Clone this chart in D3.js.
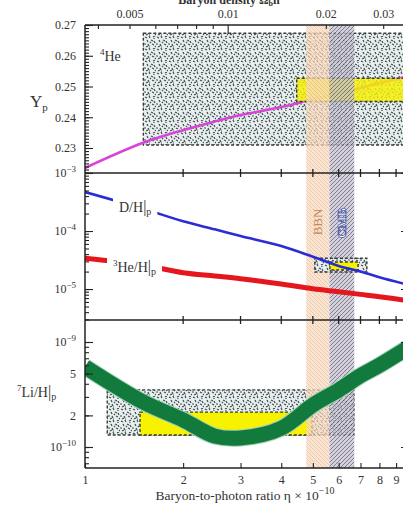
<!DOCTYPE html>
<html>
<head>
<meta charset="utf-8">
<script src="https://cdn.jsdelivr.net/npm/d3@7"></script>
<style>
  body { margin: 0; background: #fff; }
  svg { display: block; }
  svg text { font-family: "Liberation Serif", "Times New Roman", "DejaVu Serif", serif; }
</style>
</head>
<body>
<svg id="chart" width="403" height="507"></svg>
<script>
// ---- data ----
const eta = [1, 1.5, 2, 2.5, 3, 4, 5, 6, 7, 8, 10];           // eta x 10^-10
const helium4 = [0.2235, 0.2316, 0.2358, 0.2386, 0.2407, 0.2433, 0.2459, 0.2479, 0.2495, 0.2511, 0.2535];
const deuterium = [4.7e-4, 2.45e-4, 1.47e-4, 1.07e-4, 8.2e-5, 5.5e-5, 3.6e-5, 2.5e-5, 2.0e-5, 1.6e-5, 1.15e-5];
const helium3 = [3.4e-5, 2.6e-5, 1.91e-5, 1.68e-5, 1.51e-5, 1.22e-5, 1.01e-5, 9.0e-6, 8.1e-6, 7.4e-6, 6.2e-6];
const lithium7 = [5.8e-10, 2.7e-10, 1.81e-10, 1.27e-10, 1.22e-10, 1.51e-10, 2.51e-10, 3.49e-10, 4.78e-10, 6.0e-10, 9.2e-10];

// observed boxes: [eta lo, eta hi, value lo, value hi]
const heSpeckle = [1.51, 10.5, 0.231, 0.2673];
const heYellow = [4.46, 10.5, 0.2451, 0.2527];
const dSpeckle = [5.07, 7.32, 1.97e-5, 3.4e-5];
const dYellow = [5.64, 6.88, 2.13e-5, 2.92e-5];
const liSpeckle = [1.17, 6.68, 1.3e-10, 3.5e-10];
const liYellow = [1.475, 4.97, 1.3e-10, 2.15e-10];

const bbnBand = [4.77, 5.62];
const cmbBand = [5.62, 6.7];

const etaTicks = [1, 2, 3, 4, 5, 6, 7, 8, 9];
const omegaMinor = [0.004, 0.005, 0.006, 0.007, 0.008, 0.009, 0.02, 0.03];
const omegaLabels = [0.005, 0.01, 0.02, 0.03];
const heLabels = [0.23, 0.24, 0.25, 0.26, 0.27];

// ---- layout ----
const left = 85, right = 411;
const top1 = 25, sep1 = 173, sep2 = 320, bottom = 468;
const serif = "Liberation Serif, Times New Roman, serif";

const svg = d3.select("#chart").attr("font-family", serif);

const x = d3.scaleLog().domain([1, 10]).range([left, right]);
const omega = d3.scaleLog().domain([1 / 273.9, 10 / 273.9]).range([left, right]);
const y1 = d3.scaleLinear().domain([0.22187, 0.27]).range([sep1, top1]);
const y2 = d3.scaleLog().domain([2.93e-6, 1e-3]).range([sep2, sep1]);
const y3 = d3.scaleLog().domain([6.31e-11, 1.62e-9]).range([bottom, sep2]);

// ---- patterns ----
const defs = svg.append("defs");

const speck = defs.append("pattern").attr("id", "speck")
  .attr("patternUnits", "userSpaceOnUse").attr("width", 12).attr("height", 12);
speck.append("rect").attr("width", 12).attr("height", 12).attr("fill", "#e9efee");
speck.append("path")
  .attr("d", "M1,1l2,1M5,0l1,2M9,1l2,-1M3,4l1,2M7,4l2,1M10,5l1,2M0,8l2,0M4,8l1,2M8,8l2,1M11,10l1,1M2,11l2,-1M6,6l1,1M5,11l1,0M10,2l0,1")
  .attr("stroke", "#3b4d4e").attr("stroke-width", 1.2).attr("fill", "none");

const bbnHatch = defs.append("pattern").attr("id", "bbnHatch")
  .attr("patternUnits", "userSpaceOnUse").attr("width", 4).attr("height", 4);
bbnHatch.append("rect").attr("width", 4).attr("height", 4).attr("fill", "#f8dcc4");
bbnHatch.append("path").attr("d", "M0,0L4,4M-1,3L1,5M3,-1L5,1")
  .attr("stroke", "#e6b087").attr("stroke-width", 0.8);

const cmbHatch = defs.append("pattern").attr("id", "cmbHatch")
  .attr("patternUnits", "userSpaceOnUse").attr("width", 4).attr("height", 4);
cmbHatch.append("rect").attr("width", 4).attr("height", 4).attr("fill", "#c6c2d0");
cmbHatch.append("path").attr("d", "M0,4L4,0M-1,1L1,-1M3,5L5,3")
  .attr("stroke", "#56526a").attr("stroke-width", 1);

// clip paths per panel
[["clip1", top1, sep1], ["clip2", sep1, sep2], ["clip3", sep2, bottom]].forEach(([id, a, b]) => {
  defs.append("clipPath").attr("id", id).append("rect")
    .attr("x", left).attr("y", a).attr("width", right - left).attr("height", b - a);
});

function box(g, b, yScale, fill) {
  return g.append("rect")
    .attr("x", x(b[0])).attr("width", x(b[1]) - x(b[0]))
    .attr("y", yScale(b[3])).attr("height", yScale(b[2]) - yScale(b[3]))
    .attr("fill", fill)
    .attr("stroke", "#3a3a3a").attr("stroke-width", 1.4).attr("stroke-dasharray", "3,2");
}

const line = (yScale, vals) => d3.line()
  .x((d, i) => x(eta[i])).y((d, i) => yScale(vals[i]))
  .curve(d3.curveCatmullRom.alpha(0.5))(vals);

// ---- panel 1: He4 ----
const p1 = svg.append("g").attr("clip-path", "url(#clip1)");
box(p1, heSpeckle, y1, "url(#speck)");
p1.append("path").attr("d", line(y1, helium4))
  .attr("fill", "none").attr("stroke", "#d844d8").attr("stroke-width", 2.6);
box(p1, heYellow, y1, "#f6f200").attr("fill-opacity", 0.82);

// ---- panel 3 boxes (under the bands) ----
const p3 = svg.append("g").attr("clip-path", "url(#clip3)");
box(p3, liSpeckle, y3, "url(#speck)");
box(p3, liYellow, y3, "#f6f200");

// ---- BBN / CMB bands ----
svg.append("rect").attr("x", x(bbnBand[0])).attr("width", x(bbnBand[1]) - x(bbnBand[0]))
  .attr("y", top1).attr("height", bottom - top1)
  .attr("fill", "url(#bbnHatch)").attr("opacity", 0.75);
svg.append("rect").attr("x", x(cmbBand[0])).attr("width", x(cmbBand[1]) - x(cmbBand[0]))
  .attr("y", top1).attr("height", bottom - top1)
  .attr("fill", "url(#cmbHatch)").attr("opacity", 0.75);

// band labels
svg.append("text").attr("transform", `translate(${x(5.18) + 4.5},222) rotate(-90)`)
  .attr("text-anchor", "middle").attr("font-size", 13).attr("fill", "#c98656").text("BBN");
svg.append("text").attr("transform", `translate(${x(6.12) + 4.5},223) rotate(-90)`)
  .attr("text-anchor", "middle").attr("font-size", 13).attr("fill", "#ffffff")
  .attr("stroke", "#4f5fa8").attr("stroke-width", 0.8).attr("font-weight", "bold").text("CMB");

// ---- panel 2: D/H and He3/H ----
const p2 = svg.append("g").attr("clip-path", "url(#clip2)");
box(p2, dSpeckle, y2, "url(#speck)");
box(p2, dYellow, y2, "#f6f200");
p2.append("path").attr("d", line(y2, deuterium))
  .attr("fill", "none").attr("stroke", "#2c2cd4").attr("stroke-width", 2.6);
p2.append("path").attr("d", line(y2, helium3))
  .attr("fill", "none").attr("stroke", "#e5161c").attr("stroke-width", 5);

function curveLabel(g, x0, yb, parts) {
  const t = g.append("text").attr("x", x0).attr("y", yb).attr("font-size", 14).attr("fill", "#333");
  parts.forEach(p => t.append("tspan").attr("dy", p.dy || 0).attr("font-size", p.size || 14).text(p.text));
  const bb = t.node().getBBox();
  g.insert("rect", "text").attr("x", bb.x - 6).attr("y", bb.y).attr("width", bb.width + 12)
    .attr("height", bb.height).attr("fill", "#fff");
}
const lab2 = svg.append("g");
curveLabel(lab2, 119, 212, [{text: "D/H"}, {text: "|", size: 16}, {text: "p", size: 10, dy: 3}]);
curveLabel(lab2, 113, 272, [{text: "3", size: 9, dy: -6}, {text: "He/H", dy: 6}, {text: "|", size: 16}, {text: "p", size: 10, dy: 3}]);

// ---- panel 3: Li7 ----
const p3b = svg.append("g").attr("clip-path", "url(#clip3)");
p3b.append("path").attr("d", line(y3, lithium7))
  .attr("fill", "none").attr("stroke", "#9fd3b6").attr("stroke-width", 17);
p3b.append("path").attr("d", line(y3, lithium7))
  .attr("fill", "none").attr("stroke", "#137a3e").attr("stroke-width", 15);

// ---- frame ----
const frame = svg.append("g").attr("stroke", "#222").attr("stroke-width", 1.5);
[top1, sep1, sep2, bottom].forEach(yy => frame.append("line")
  .attr("x1", left).attr("x2", right).attr("y1", yy).attr("y2", yy));
[left, right].forEach(xx => frame.append("line")
  .attr("x1", xx).attr("x2", xx).attr("y1", top1).attr("y2", bottom));

// crossing ticks on panel separators
[sep1, sep2].forEach(yy => {
  svg.append("g").selectAll("line").data(etaTicks.slice(1)).join("line")
    .attr("x1", d => x(d)).attr("x2", d => x(d)).attr("y1", yy - 4).attr("y2", yy + 4)
    .attr("stroke", "#222").attr("stroke-width", 1.3);
});

function styleAxis(g) {
  g.select(".domain").remove();
  g.attr("font-family", serif).attr("font-size", 12);
  g.selectAll(".tick line").attr("stroke", "#222").attr("stroke-width", 1.1);
  g.selectAll(".tick text").attr("fill", "#333");
}

function logMinor(scale) {
  const [a, b] = scale.domain();
  const out = [];
  for (let e = Math.floor(Math.log10(a)); e <= Math.ceil(Math.log10(b)); e++) {
    for (let m = 1; m <= 9; m++) {
      const v = m * Math.pow(10, e);
      if (v >= a && v <= b) out.push(v);
    }
  }
  return out;
}

function powerLabels(g) {
  g.selectAll(".tick text").each(function(d) {
    const t = d3.select(this);
    const e = Math.floor(Math.log10(d) + 1e-9);
    const m = Math.round(d / Math.pow(10, e));
    if (m !== 1) { t.text(m); return; }
    t.text(null);
    t.append("tspan").text("10");
    t.append("tspan").attr("dy", -5).attr("font-size", 9).text("\u2212" + Math.abs(e));
  });
}

// left axes
svg.append("g").attr("transform", `translate(${left},0)`)
  .call(d3.axisLeft(y1).tickValues(d3.range(222, 271).map(d => d / 1000)).tickSize(-4).tickFormat(""))
  .call(styleAxis);
svg.append("g").attr("transform", `translate(${left},0)`)
  .call(d3.axisLeft(y1).tickValues(heLabels).tickSize(-8).tickPadding(9).tickFormat(d3.format(".2f")))
  .call(styleAxis);

svg.append("g").attr("transform", `translate(${left},0)`)
  .call(d3.axisLeft(y2).tickValues(logMinor(y2)).tickSize(-4).tickFormat(""))
  .call(styleAxis);
svg.append("g").attr("transform", `translate(${left},0)`)
  .call(d3.axisLeft(y2).tickValues([1e-3, 1e-4, 1e-5]).tickSize(-8).tickPadding(9).tickFormat(d => d))
  .call(styleAxis).call(powerLabels);

svg.append("g").attr("transform", `translate(${left},0)`)
  .call(d3.axisLeft(y3).tickValues(logMinor(y3)).tickSize(-4).tickFormat(""))
  .call(styleAxis);
svg.append("g").attr("transform", `translate(${left},0)`)
  .call(d3.axisLeft(y3).tickValues([1e-9, 5e-10, 2e-10, 1e-10]).tickSize(-8).tickPadding(9).tickFormat(d => d))
  .call(styleAxis).call(powerLabels);

// right axis ticks (frame mostly past the window edge)
svg.append("g").attr("transform", `translate(${right},0)`)
  .call(d3.axisRight(y2).tickValues([1e-3, 1e-4, 1e-5]).tickSize(-10).tickFormat(""))
  .call(styleAxis);
svg.append("g").attr("transform", `translate(${right},0)`)
  .call(d3.axisRight(y3).tickValues([1e-9, 1e-10]).tickSize(-10).tickFormat(""))
  .call(styleAxis);

// bottom axis
svg.append("g").attr("transform", `translate(0,${bottom})`)
  .call(d3.axisBottom(x).tickValues(etaTicks).tickSize(-5).tickPadding(7).tickFormat(d3.format("d")))
  .call(styleAxis);

// top axis: baryon density
svg.append("g").attr("transform", `translate(0,${top1})`)
  .call(d3.axisTop(omega).tickValues(omegaMinor).tickSize(-4).tickFormat(""))
  .call(styleAxis);
svg.append("g").attr("transform", `translate(0,${top1})`)
  .call(d3.axisTop(omega).tickValues([0.01]).tickSize(-9).tickFormat(""))
  .call(styleAxis);
svg.append("g").attr("transform", `translate(0,${top1})`)
  .call(d3.axisTop(omega).tickValues(omegaLabels).tickSize(0).tickPadding(7).tickFormat(d => String(d)))
  .call(styleAxis);

// ---- titles (top one sits half out of frame, as in the source image) ----
const title = svg.append("text").attr("x", 231).attr("y", 4).attr("text-anchor", "middle")
  .attr("font-size", 12).attr("font-weight", "bold").attr("fill", "#333");
title.append("tspan").text("Baryon density \u03a9");
title.append("tspan").attr("font-size", 8).attr("dy", 2).text("b");
title.append("tspan").attr("dy", -2).text("h");
title.append("tspan").attr("font-size", 8).attr("dy", -4).text("2");

const xt = svg.append("text").attr("x", 245).attr("y", 500).attr("text-anchor", "middle")
  .attr("font-size", 13.5).attr("fill", "#333");
xt.append("tspan").text("Baryon-to-photon ratio \u03b7 \u00d7 10");
xt.append("tspan").attr("dy", -6).attr("font-size", 10).text("\u221210");

const yp = svg.append("text").attr("x", 30).attr("y", 107).attr("font-size", 17).attr("fill", "#333");
yp.append("tspan").text("Y");
yp.append("tspan").attr("dy", 4).attr("font-size", 11).text("p");

const he4 = svg.append("text").attr("x", 100).attr("y", 61).attr("font-size", 14).attr("fill", "#333");
he4.append("tspan").attr("dy", -6).attr("font-size", 9).text("4");
he4.append("tspan").attr("dy", 6).text("He");

const li = svg.append("text").attr("x", 17).attr("y", 397).attr("font-size", 14).attr("fill", "#333");
li.append("tspan").attr("dy", -6).attr("font-size", 9).text("7");
li.append("tspan").attr("dy", 6).text("Li/H");
li.append("tspan").attr("font-size", 16).text("|");
li.append("tspan").attr("dy", 3).attr("font-size", 10).text("p");
</script>
</body>
</html>
